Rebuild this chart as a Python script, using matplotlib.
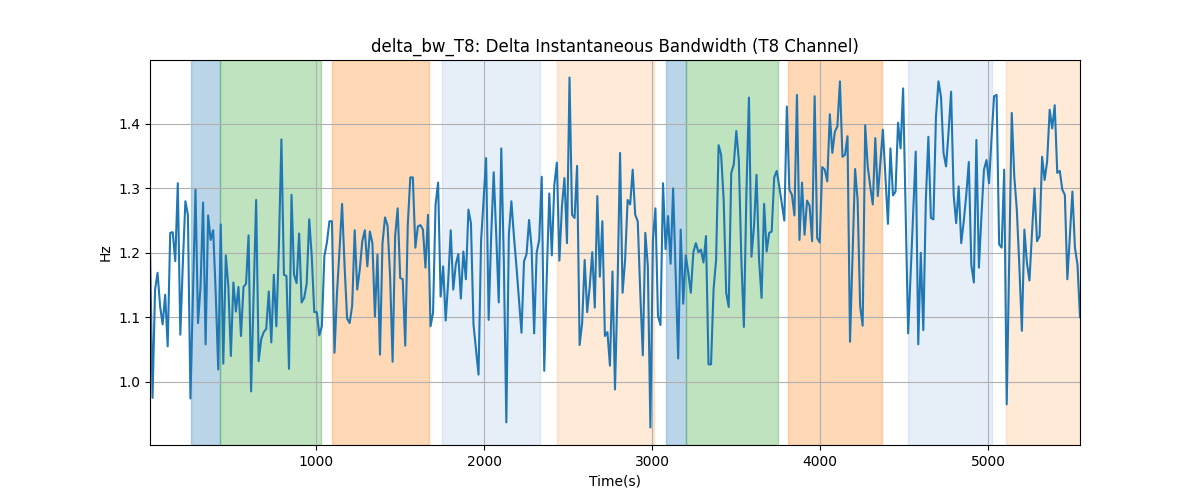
import numpy as np
import matplotlib
matplotlib.use("Agg")
import matplotlib.pyplot as plt

# Sampling of the time axis (seconds)
t_start = 8.5
t_step = 15.05

# Delta instantaneous bandwidth values (Hz)
values = [
    # segment 1
    1.210, 0.975, 1.143, 1.169, 1.117, 1.089, 1.135, 1.055, 1.231, 1.232,
    1.187, 1.308, 1.073, 1.184, 1.280, 1.259, 0.974, 1.138, 1.298, 1.091,
    1.148, 1.278, 1.058, 1.258, 1.220, 1.235, 1.138, 1.019, 1.244, 1.028,
    1.196, 1.148, 1.040, 1.154, 1.109, 1.147, 1.071, 1.147, 1.152, 1.227,
    0.985, 1.133, 1.282, 1.032, 1.066, 1.077, 1.082, 1.140, 1.061, 1.166,
    1.086, 1.210, 1.376,
    # segment 2
    1.166, 1.164, 1.020, 1.290, 1.166, 1.153, 1.230, 1.123, 1.130, 1.152,
    1.252, 1.195, 1.108, 1.108, 1.072, 1.086, 1.195, 1.216, 1.249, 1.249,
    1.045, 1.138, 1.205, 1.276, 1.179, 1.098, 1.091, 1.118, 1.235, 1.143,
    1.174, 1.218, 1.235, 1.179, 1.233, 1.215, 1.101, 1.197, 1.042, 1.215,
    1.255, 1.242, 1.164, 1.031, 1.226, 1.269, 1.161, 1.159, 1.056, 1.243,
    1.317, 1.317, 1.208,
    # segment 3
    1.241, 1.243, 1.236, 1.177, 1.259, 1.086, 1.107, 1.275, 1.309, 1.132,
    1.179, 1.095, 1.156, 1.235, 1.143, 1.182, 1.198, 1.129, 1.202, 1.159,
    1.267, 1.246, 1.089, 1.050, 1.011, 1.218, 1.282, 1.347, 1.096, 1.226,
    1.325, 1.228, 1.123, 1.362, 1.189, 0.937, 1.228, 1.280, 1.226, 1.179,
    1.128, 1.076, 1.187, 1.198, 1.251, 1.208, 1.075, 1.200, 1.220, 1.318,
    1.017, 1.164, 1.292,
    # segment 4
    1.196, 1.306, 1.340, 1.188, 1.272, 1.316, 1.215, 1.472, 1.259, 1.254,
    1.335, 1.057, 1.091, 1.189, 1.108, 1.148, 1.201, 1.115, 1.288, 1.163,
    1.249, 1.071, 1.077, 1.025, 1.171, 0.988, 1.146, 1.355, 1.138, 1.189,
    1.282, 1.275, 1.329, 1.259, 1.249, 1.138, 1.041, 1.231, 1.179, 0.929,
    1.220, 1.269, 1.102, 1.088, 1.308, 1.206, 1.257, 1.183, 1.300, 1.168,
    1.036, 1.236,
    # segment 5
    1.121, 1.196, 1.169, 1.138, 1.201, 1.215, 1.201, 1.205, 1.185, 1.226,
    1.027, 1.027, 1.143, 1.189, 1.367, 1.352, 1.282, 1.138, 1.116, 1.324,
    1.337, 1.389, 1.344, 1.189, 1.085, 1.293, 1.441, 1.194, 1.241, 1.321,
    1.189, 1.130, 1.276, 1.202, 1.231, 1.233, 1.317, 1.327, 1.303, 1.277,
    1.250, 1.427, 1.298, 1.290, 1.258, 1.445, 1.220, 1.309, 1.228, 1.281,
    1.273, 1.218, 1.443,
    # segment 6
    1.223, 1.216, 1.333, 1.329, 1.311, 1.415, 1.355, 1.388, 1.396, 1.466,
    1.349, 1.352, 1.381, 1.062, 1.195, 1.330, 1.282, 1.117, 1.087, 1.398,
    1.334, 1.303, 1.275, 1.378, 1.288, 1.339, 1.391, 1.318, 1.245, 1.362,
    1.289, 1.295, 1.402, 1.362, 1.455, 1.267, 1.075, 1.169, 1.262, 1.357,
    1.058, 1.200, 1.080, 1.282, 1.380, 1.254, 1.252, 1.411, 1.466, 1.442,
    1.355, 1.334, 1.388,
    # segment 7
    1.450, 1.290, 1.246, 1.303, 1.215, 1.249, 1.290, 1.341, 1.181, 1.154,
    1.375, 1.177, 1.257, 1.329, 1.344, 1.308, 1.378, 1.443, 1.445, 1.213,
    1.208, 1.329, 0.965, 1.189, 1.417, 1.318, 1.267, 1.179, 1.079, 1.236,
    1.184, 1.157, 1.231, 1.300, 1.218, 1.226, 1.349, 1.313, 1.342, 1.422,
    1.393, 1.429, 1.324, 1.327, 1.298, 1.290, 1.159, 1.226, 1.295, 1.208,
    1.182, 1.100,
]

# Shaded phases: (start, end, colour, alpha)
span_starts = [255, 424, 1095, 1747, 2431, 3080, 3201, 3808, 4523, 5107]
span_ends = [424, 1028, 1671, 2329, 3007, 3201, 3746, 4366, 5025, 5600]
span_colors = ["tab:blue", "tab:green", "tab:orange", "#5b8fd6", "#ff9f4a",
               "tab:blue", "tab:green", "tab:orange", "#5b8fd6", "#ff9f4a"]
span_alphas = [0.3, 0.3, 0.3, 0.15, 0.22, 0.3, 0.3, 0.3, 0.15, 0.22]

values = np.array(values)
times = t_start + t_step * np.arange(len(values))

fig, ax = plt.subplots(figsize=(12, 5), dpi=100)
for s, e, c, a in zip(span_starts, span_ends, span_colors, span_alphas):
    ax.axvspan(s, e, color=c, alpha=a)
ax.plot(times, values, color="tab:blue", linewidth=1.5)
ax.set_xlim(times[0], times[-1])
ax.set_title("delta_bw_T8: Delta Instantaneous Bandwidth (T8 Channel)")
ax.set_xlabel("Time(s)")
ax.set_ylabel("Hz")
ax.grid(True)
fig.savefig("out.png")
